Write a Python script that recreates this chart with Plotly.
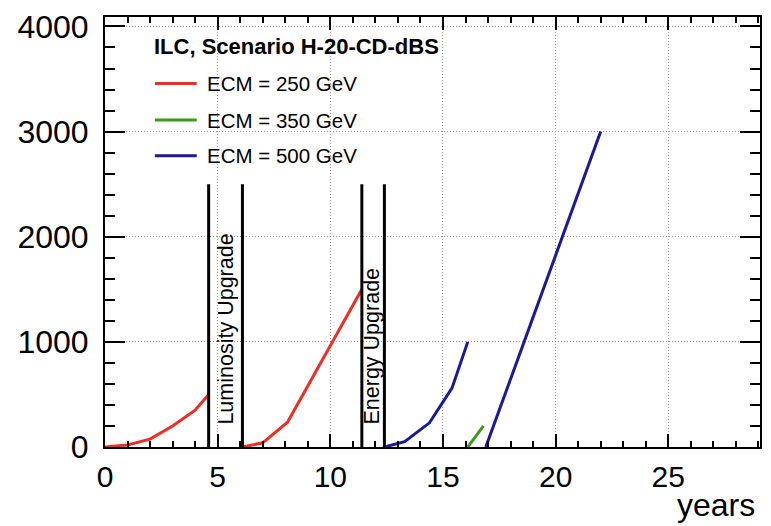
import plotly.graph_objects as go

# Integrated luminosity (fb^-1) versus running time (years), ILC scenario H-20-CD-dBS
red_run1_years = [0.0, 1.0, 2.0, 3.0, 4.0, 4.6]
red_run1_lumi = [0, 20, 75, 200, 350, 500]
red_run2_years = [6.1, 7.0, 8.1, 9.0, 10.0, 11.0, 11.4]
red_run2_lumi = [0, 40, 236, 584, 970, 1357, 1500]
blue_run1_years = [12.4, 13.3, 14.4, 15.4, 16.1]
blue_run1_lumi = [0, 50, 230, 560, 1000]
green_years = [16.1, 16.8]
green_lumi = [0, 200]
blue_run2_years = [16.9, 22.0]
blue_run2_lumi = [0, 3000]

# Shutdown markers for the upgrade periods
upgrade_x = [4.6, 6.1, 11.4, 12.4]
upgrade_top = 2500
upgrade_labels = ["Luminosity Upgrade", "Energy Upgrade"]
upgrade_label_x = [5.39, 11.83]
upgrade_label_y = [1121, 961]

legend_title = "ILC, Scenario H-20-CD-dBS"
legend_names = ["ECM = 250 GeV", "ECM = 350 GeV", "ECM = 500 GeV"]

RED = "#ef2d25"
GREEN = "#3b9c1b"
BLUE = "#19199a"
FONT = "Liberation Sans, Arial, Helvetica, sans-serif"

fig = go.Figure()

for xs, ys, col in [
    (red_run1_years, red_run1_lumi, RED),
    (red_run2_years, red_run2_lumi, RED),
    (blue_run1_years, blue_run1_lumi, BLUE),
    (green_years, green_lumi, GREEN),
    (blue_run2_years, blue_run2_lumi, BLUE),
]:
    fig.add_trace(go.Scatter(x=xs, y=ys, mode="lines",
                             line=dict(color=col, width=3), showlegend=False,
                             hoverinfo="skip"))

for ux in upgrade_x:
    fig.add_trace(go.Scatter(x=[ux, ux], y=[0, upgrade_top], mode="lines",
                             line=dict(color="black", width=3), showlegend=False,
                             hoverinfo="skip"))

for txt, lx, ly in zip(upgrade_labels, upgrade_label_x, upgrade_label_y):
    fig.add_annotation(x=lx, y=ly, xref="x", yref="y", text=txt, textangle=-90,
                       showarrow=False, font=dict(family=FONT, size=21.5, color="black"),
                       xanchor="center", yanchor="middle")

# Pixel helpers for the legend block placed inside the plot frame
L, R, T, B = 105, 762, 13, 447
def px(x):
    return (x - L) / (R - L)
def py(y):
    return (B - y) / (B - T)

# White backing so the grid does not run through the legend
fig.add_shape(type="rect", xref="paper", yref="paper",
              x0=px(148), x1=px(387), y0=py(170), y1=py(27),
              fillcolor="white", line=dict(width=0), layer="between")

fig.add_annotation(xref="paper", yref="paper", x=px(152), y=py(43), text="<b>" + legend_title + "</b>",
                   showarrow=False, xanchor="left", yanchor="middle",
                   font=dict(family=FONT, size=22, color="black"))
for name, col, yy in zip(legend_names, [RED, GREEN, BLUE], [80, 117, 153]):
    fig.add_shape(type="line", xref="paper", yref="paper",
                  x0=px(155), x1=px(197), y0=py(yy), y1=py(yy),
                  line=dict(color=col, width=3))
    fig.add_annotation(xref="paper", yref="paper", x=px(205), y=py(yy), text=name,
                       showarrow=False, xanchor="left", yanchor="middle",
                       font=dict(family=FONT, size=20.5, color="black"))

fig.add_annotation(xref="paper", yref="paper", x=px(759), y=py(506), text="years",
                   showarrow=False, xanchor="right", yanchor="middle",
                   font=dict(family=FONT, size=32, color="black"))

fig.update_xaxes(range=[0, 29.07], tickmode="array", tickvals=[0, 5, 10, 15, 20, 25],
                 ticks="inside", ticklen=13, tickwidth=2, tickcolor="black",
                 minor=dict(dtick=1, tick0=0, ticks="inside", ticklen=6, tickwidth=2,
                            tickcolor="black", showgrid=False),
                 showline=True, linecolor="black", linewidth=2, mirror="allticks",
                 showgrid=True, gridcolor="#9a9a9a", gridwidth=1, griddash="1px,2px",
                 zeroline=False, tickfont=dict(family=FONT, size=30, color="black"),
                 ticklabelstandoff=2)
fig.update_yaxes(range=[0, 4090], tickmode="array", tickvals=[0, 1000, 2000, 3000, 4000],
                 ticks="inside", ticklen=20, tickwidth=2, tickcolor="black",
                 minor=dict(dtick=200, tick0=0, ticks="inside", ticklen=10, tickwidth=2,
                            tickcolor="black", showgrid=False),
                 showline=True, linecolor="black", linewidth=2, mirror="allticks",
                 showgrid=True, gridcolor="#9a9a9a", gridwidth=1, griddash="1px,2px",
                 zeroline=False, tickfont=dict(family=FONT, size=32, color="black"),
                 ticklabelstandoff=8)

fig.update_layout(width=771, height=526, margin=dict(l=L, r=771 - R, t=T, b=526 - B),
                  paper_bgcolor="white", plot_bgcolor="white", showlegend=False)

fig.write_html("out.html")
